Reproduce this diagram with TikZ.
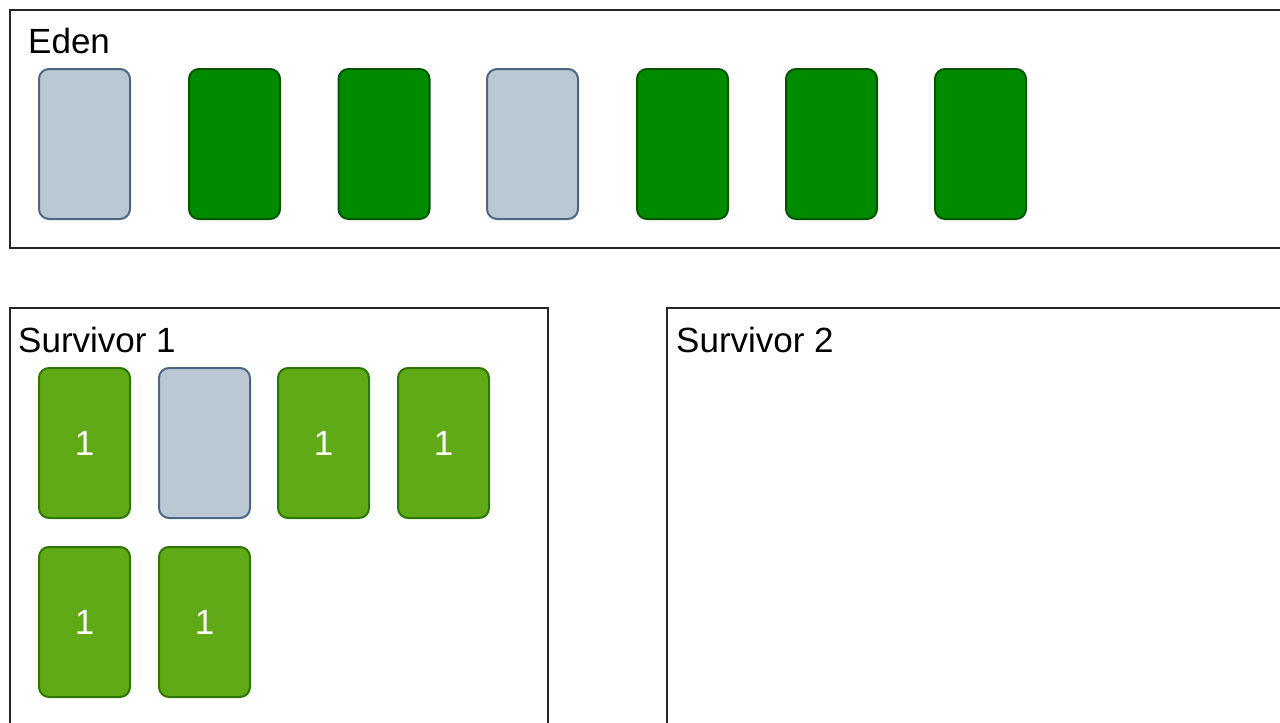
\documentclass[tikz,border=0pt]{standalone}
\usepackage{fontspec}
\setmainfont{Liberation Sans}
\usepackage{xcolor}
\usepackage{tikz}

\definecolor{edenGreen}{HTML}{008A00}
\definecolor{edenLine}{HTML}{005700}
\definecolor{survGreen}{HTML}{60A917}
\definecolor{survLine}{HTML}{2D7600}
\definecolor{deadFill}{HTML}{BAC8D3}
\definecolor{deadLine}{HTML}{4A6784}

\begin{document}
\begin{tikzpicture}
    [x=1pt, y=-1pt,
     every node/.style={font=\fontsize{35}{42}\selectfont, inner sep=0pt},
     obj/.style={rounded corners=10pt, minimum width=91pt, minimum height=150pt, line width=2pt},
     dead/.style={obj, fill=deadFill, draw=deadLine},
     young/.style={obj, fill=edenGreen, draw=edenLine},
     aged/.style={obj, fill=survGreen, draw=survLine, text=white},
     area/.style={draw=black!85, line width=2.8pt}]
    \useasboundingbox (0,0) rectangle (1280,723);
    \clip (0,0) rectangle (1280,723);
    % the three spaces
    \draw[area] (10,10) rectangle (1300,248);
    \draw[area] (10,308) rectangle (548,740);
    \draw[area] (667,308) rectangle (1300,740);
    \node[anchor=base west] (edenlbl) at (28,53) {Eden};
    \node[anchor=base west] (surv1lbl) at (18,352) {Survivor 1};
    \node[anchor=base west] (surv2lbl) at (676,352) {Survivor 2};
    % eden
    \node[dead]  (e1) at (84.5,144) {};
    \node[young] (e2) at (234.5,144) {};
    \node[young] (e3) at (384,144) {};
    \node[dead]  (e4) at (532.5,144) {};
    \node[young] (e5) at (682.5,144) {};
    \node[young] (e6) at (831.5,144) {};
    \node[young] (e7) at (980.5,144) {};
    % survivor 1
    \node[aged] (s1) at (84.5,443) {1};
    \node[dead] (s2) at (204.5,443) {};
    \node[aged] (s3) at (323.5,443) {1};
    \node[aged] (s4) at (443.5,443) {1};
    \node[aged] (s5) at (84.5,622) {1};
    \node[aged] (s6) at (204.5,622) {1};
\end{tikzpicture}
\end{document}
